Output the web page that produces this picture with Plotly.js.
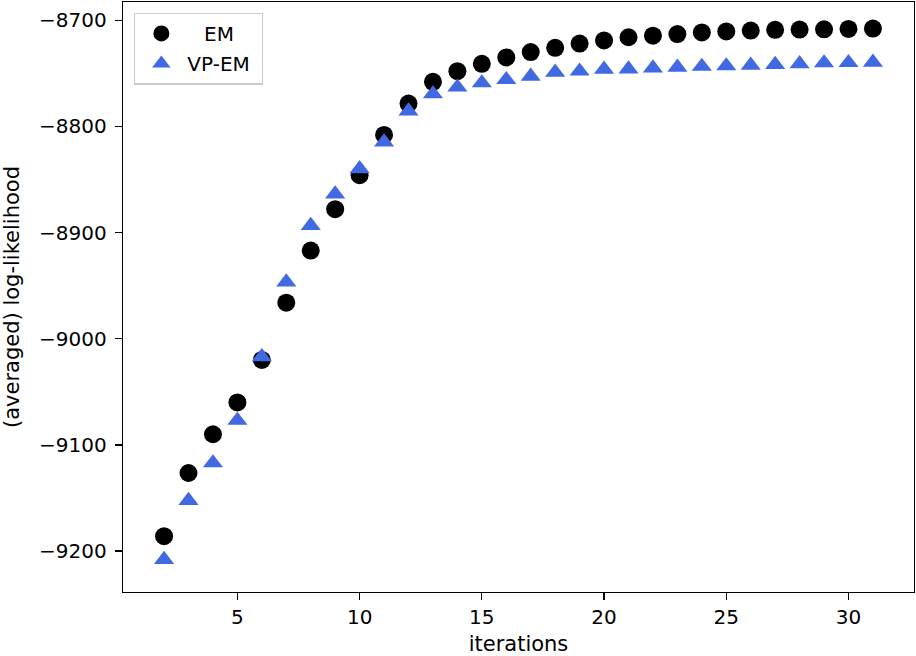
<!DOCTYPE html>
<html>
<head>
<meta charset="utf-8">
<script src="https://cdn.plot.ly/plotly-3.0.1.min.js"></script>
<style>
  html, body { margin: 0; padding: 0; background: #fff; }
  #chart { width: 916px; height: 656px; }
</style>
</head>
<body>
<div id="chart"></div>
<script>
// iterations 2..31
const iterations = [2, 3, 4, 5, 6, 7, 8, 9, 10, 11, 12, 13, 14, 15, 16,
  17, 18, 19, 20, 21, 22, 23, 24, 25, 26, 27, 28, 29, 30, 31];

const emLogLik = [-9186, -9126.5, -9090, -9060, -9020, -8966, -8917, -8878,
  -8846, -8808, -8778.5, -8758, -8748, -8741, -8735, -8730, -8726, -8722,
  -8719, -8716, -8714.5, -8713, -8711.5, -8710.5, -8709.7, -8709, -8708.8,
  -8708.5, -8708.2, -8707.8];

const vpemLogLik = [-9208, -9152.5, -9117, -9077, -9017, -8946.6, -8893.4,
  -8863.7, -8840, -8814.7, -8785.5, -8769.4, -8763, -8759, -8756, -8752.8,
  -8749, -8748, -8746.2, -8746, -8745, -8744.3, -8743.5, -8743, -8742.4,
  -8741.7, -8741, -8740.2, -8740, -8739.6];

const yTicks = [-9200, -9100, -9000, -8900, -8800, -8700];
const xTicks = [5, 10, 15, 20, 25, 30];

const font = "DejaVu Sans, Verdana, sans-serif";

var em = {
  x: iterations,
  y: emLogLik,
  type: "scatter",
  mode: "markers",
  // padded so the short label sits centred over "VP-EM", as in the original
  name: "\u00A0\u00A0\u2009EM",
  legendgroup: "em",
  marker: { color: "black", size: 18, symbol: "circle" },
};

var vpem = {
  x: iterations,
  y: vpemLogLik,
  type: "scatter",
  mode: "markers",
  name: "VP-EM\u00A0",
  legendgroup: "vpem",
  marker: { color: "#4169E1", size: 17.5, symbol: "triangle-up" },
};

var axisCommon = {
  showgrid: false,
  zeroline: false,
  showline: true,
  linecolor: "black",
  linewidth: 1.3,
  mirror: true,
  ticks: "outside",
  ticklen: 7,
  tickwidth: 1.3,
  tickcolor: "black",
  tickfont: { family: font, size: 20, color: "black" },
};

var layout = {
  width: 916,
  height: 656,
  margin: { l: 123, r: 2, t: 2, b: 64 },
  paper_bgcolor: "white",
  plot_bgcolor: "white",
  font: { family: font, color: "black" },
  xaxis: Object.assign({}, axisCommon, {
    range: [0.32, 32.68],
    tickvals: xTicks,
    automargin: false,
    title: { text: "iterations", font: { family: font, size: 21 }, standoff: 8 },
  }),
  yaxis: Object.assign({}, axisCommon, {
    range: [-9238.6, -8682.8],
    tickvals: yTicks,
    automargin: false,
    ticklabelstandoff: 4,
    title: { text: "(averaged) log-likelihood", font: { family: font, size: 21 }, standoff: 14 },
  }),
  legend: {
    x: 0.014,
    y: 0.982,
    xanchor: "left",
    yanchor: "top",
    bgcolor: "rgba(255,255,255,0.9)",
    bordercolor: "#cccccc",
    borderwidth: 1.3,
    font: { family: font, size: 20, color: "black" },
    itemwidth: 42,
    tracegroupgap: 1,
  },
};

Plotly.newPlot("chart", [em, vpem], layout, { displayModeBar: false, staticPlot: true });
</script>
</body>
</html>
